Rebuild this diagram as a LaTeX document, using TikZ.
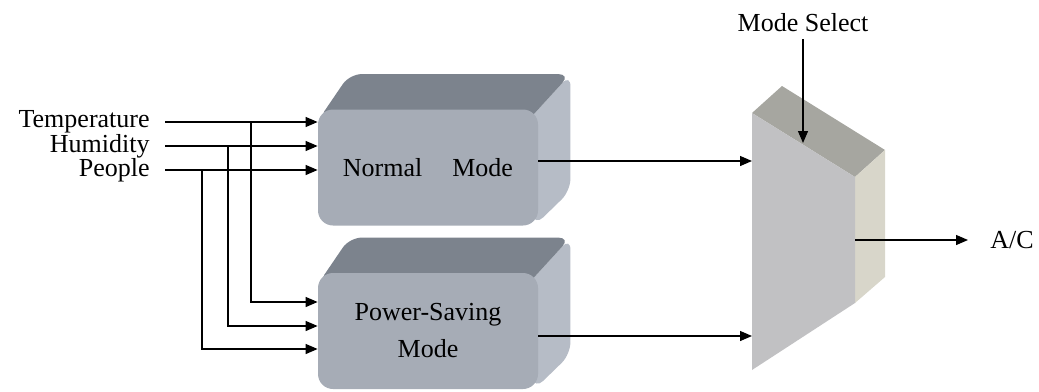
\documentclass[tikz,border=0pt]{standalone}
\usepackage{fontspec}
\setmainfont{Liberation Serif}
\usetikzlibrary{arrows.meta,backgrounds}
\definecolor{boxfront}{RGB}{166,172,182}
\definecolor{boxtop}{RGB}{124,131,141}
\definecolor{boxside}{RGB}{182,188,198}
\definecolor{muxfront}{RGB}{193,193,195}
\definecolor{muxtop}{RGB}{166,166,160}
\definecolor{muxside}{RGB}{216,214,202}

\begin{document}
\begin{tikzpicture}[x=0.5pt,y=-0.5pt,
        font=\fontsize{13}{18.5}\selectfont,
        arr/.style={-{Triangle[length=6pt,width=5pt]},line width=0.65pt},
        inlabel/.style={inner sep=0pt,anchor=east},
        modebox/.style={fill=boxfront,rounded corners=7.5pt,minimum width=110pt,
            minimum height=58pt,inner sep=0pt,align=center}]
            \useasboundingbox (0,0) rectangle (1039,391);

            % Draw the two mode blocks
            \node[modebox] (normal) at (428,167.5) {Normal\hspace{15pt}Mode};
            \node[modebox] (power) at (428,331) {Power-Saving\\Mode};
            \begin{scope}[on background layer]
                \foreach \b in {normal,power} {
                    \fill[boxside, rounded corners=6pt] ([shift={(-6pt,-6.6pt)}]\b.north east)
                        -- ([shift={(16pt,17.5pt)}]\b.north east)
                        -- ([shift={(16pt,17.5pt)}]\b.south east)
                        -- ([xshift=-2pt]\b.south east)
                        -- ([xshift=-8pt]\b.east) -- cycle;
                    \fill[boxtop, rounded corners=6pt] ([yshift=-6pt]\b.north west)
                        -- ([shift={(16pt,17.5pt)}]\b.north west)
                        -- ([shift={(16pt,17.5pt)}]\b.north east)
                        -- ([shift={(-6pt,-6.6pt)}]\b.north east) -- cycle;
                }
            \end{scope}

            % Draw the mode selector
            \fill[muxtop] (752,113) -- (782,86) -- (885,150) -- (855,177) -- cycle;
            \fill[muxside] (855,177) -- (885,150) -- (885,277) -- (855,303) -- cycle;
            \fill[muxfront] (752,113) -- (855,177) -- (855,303) -- (752,370) -- cycle;
            \coordinate (muxin1) at (752,161);
            \coordinate (muxin2) at (752,336);
            \coordinate (muxout) at (855,240);
            \coordinate (muxsel) at (803,143);

            % Draw the inputs
            \node[inlabel] (temp) at (150,122) {Temperature};
            \node[inlabel] (humid) at (150,146) {Humidity};
            \node[inlabel] (people) at (150,170) {People};
            \coordinate (tcol) at (251,0);
            \coordinate (hcol) at (228,0);
            \coordinate (pcol) at (202,0);
            \draw[arr] ([xshift=7.5pt]temp.east) -- (temp -| normal.west);
            \draw[arr] ([xshift=7.5pt]humid.east) -- (humid -| normal.west);
            \draw[arr] ([xshift=7.5pt]people.east) -- (people -| normal.west);
            \draw[arr] (tcol |- temp) |- ([yshift=14.5pt]power.west);
            \draw[arr] (hcol |- humid) |- ([yshift=2.5pt]power.west);
            \draw[arr] (pcol |- people) |- ([yshift=-9pt]power.west);

            % Draw the outputs
            \draw[arr] (normal.east |- muxin1) -- (muxin1);
            \draw[arr] (power.east |- muxin2) -- (muxin2);
            \node (sel) at (803,23) {Mode Select};
            \draw[arr] (sel.south) -- (muxsel);
            \node[anchor=west,inner sep=0pt] (ac) at (990,240) {A/C};
            \draw[arr] (muxout) -- ([xshift=-11pt]ac.west);
        \end{tikzpicture}
\end{document}
